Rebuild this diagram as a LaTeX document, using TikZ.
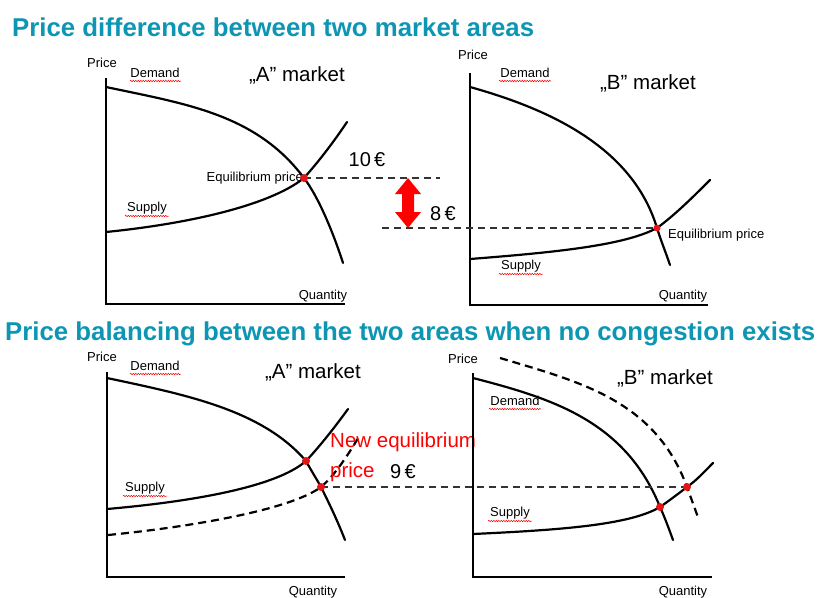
\documentclass[tikz,border=0pt]{standalone}
\usepackage{fontspec}
\setmainfont{Liberation Sans}
\usetikzlibrary{decorations.pathmorphing}
\definecolor{titlecol}{RGB}{12,150,180}
\definecolor{dotred}{RGB}{230,20,20}
\begin{document}
\begin{tikzpicture}[x=1pt,y=-1pt,
  axis/.style={line width=1.4pt,black},
  curve/.style={line width=2.2pt,black,line cap=round},
  dcurve/.style={line width=2.2pt,black,dash pattern=on 8pt off 5pt},
  guide/.style={line width=1.2pt,black!80,dash pattern=on 7pt off 5pt},
  eqdot/.style={circle,fill=dotred,inner sep=0pt,minimum size=8pt},
  title/.style={font=\bfseries\fontsize{25.8}{28}\selectfont,text=titlecol,inner sep=0pt},
  small/.style={font=\fontsize{13}{15}\selectfont,inner sep=1pt},
  mkt/.style={font=\fontsize{20.5}{24}\selectfont,inner sep=0pt},
  val/.style={font=\fontsize{20}{24}\selectfont,inner sep=0pt},
  squig/.style={red,line width=0.5pt,decorate,decoration={snake,amplitude=0.7pt,segment length=2.5pt}}
]
\useasboundingbox (0,0) rectangle (819,597);

% titles
\node[title,anchor=west] (t1) at (12,27) {Price difference between two market areas};
\node[title,anchor=west] (t2) at (5,334) {Price balancing between the two areas when no congestion exists};

% ---------- Panel 1 : A market (top-left)
\draw[axis] (106,78) -- (106,304) -- (345,304);
\node[small] (p1price) at (102,63) {Price};
\node[small] (p1dem) at (155,73) {Demand};
\draw[squig] (130,81) -- (181,81);
\node[mkt] (p1mkt) at (297,75) {„A” market};
\coordinate (eA) at (304,178);
\draw[curve] (106,87) .. controls (186,104) and (256,114) .. (eA)
   .. controls (320,199) and (335,238) .. (343,263);
\draw[curve] (106,232) .. controls (186,224) and (269,206) .. (eA)
   .. controls (320,160) and (335,140) .. (347,122);
\node[small] (p1sup) at (147,208) {Supply};
\draw[squig] (125,216) -- (169,216);
\node[small,anchor=east] (p1eq) at (304,178) {Equilibrium price};
\node[val] (ten) at (367,160) {10\,€};
\node[small] (p1q) at (323,296) {Quantity};

% ---------- Panel 2 : B market (top-right)
\draw[axis] (470,73) -- (470,305) -- (708,305);
\node[small] (p2price) at (473,55) {Price};
\node[small] (p2dem) at (525,73) {Demand};
\draw[squig] (499,81) -- (551,81);
\node[mkt] (p2mkt) at (648,83) {„B” market};
\coordinate (eB) at (657,228);
\draw[curve] (470,87) .. controls (545,108) and (632,145) .. (eB)
   .. controls (661,241) and (666,253) .. (670,265);
\draw[curve] (470,259) .. controls (560,252) and (625,245) .. (eB)
   .. controls (675,215) and (695,195) .. (710,180);
\node[small,anchor=west] (p2eq) at (667,235) {Equilibrium price};
\node[small] (p2sup) at (521,266) {Supply};
\draw[squig] (499,274) -- (543,274);
\node[small] (p2q) at (683,296) {Quantity};

% guides and price difference arrow
\coordinate (gA) at (440,178);
\coordinate (gB) at (382,228);
\draw[guide] (eA) -- (gA);
\draw[guide] (gB) -- (eB);
\fill[red] (408,178) -- (421,194) -- (414,194) -- (414,212) -- (421,212) -- (408,228)
   -- (395,212) -- (402,212) -- (402,194) -- (395,194) -- cycle;
\node[val] (eight) at (443,214) {8\,€};
\node[eqdot] at (eA) {};
\node[eqdot,minimum size=7pt] at (eB) {};

% ---------- Panel 3 : A market (bottom-left)
\draw[axis] (107,372) -- (107,577) -- (345,577);
\node[small] (p3price) at (102,357) {Price};
\node[small] (p3dem) at (155,366) {Demand};
\draw[squig] (130,374) -- (181,374);
\node[mkt] (p3mkt) at (313,372) {„A” market};
\coordinate (eA1) at (306,461);
\coordinate (eA2) at (321,487);
\draw[curve] (107,378) .. controls (187,395) and (262,410) .. (eA1)
   .. controls (312,472) and (316,478) .. (eA2)
   .. controls (330,505) and (338,522) .. (345,540);
\draw[curve] (107,509) .. controls (187,502) and (275,488) .. (eA1)
   .. controls (320,446) and (335,427) .. (348,409);
\draw[dcurve] (108,535) .. controls (190,527) and (290,510) .. (eA2)
   .. controls (335,475) and (348,455) .. (360,435);
\node[small] (p3sup) at (145,488) {Supply};
\draw[squig] (123,496) -- (167,496);
\node[small] (p3q) at (313,592) {Quantity};
\node[text=red,anchor=west,inner sep=0pt,font=\fontsize{20.5}{24}\selectfont] (neweq) at (330,442) {New equilibrium};
\node[text=red,anchor=west,inner sep=0pt,font=\fontsize{20.5}{24}\selectfont] (newpr) at (330,472) {price};
\node[val] (nine) at (403,472) {9\,€};

% ---------- Panel 4 : B market (bottom-right)
\draw[axis] (473,373) -- (473,577) -- (712,577);
\node[small] (p4price) at (463,359) {Price};
\node[mkt] (p4mkt) at (665,378) {„B” market};
\node[small] (p4dem) at (515,401) {Demand};
\draw[squig] (489,409) -- (541,409);
\coordinate (eB1) at (660,507);
\coordinate (eB2) at (687,487);
\draw[curve] (473,378) .. controls (550,398) and (625,420) .. (eB1)
   .. controls (665,518) and (669,529) .. (673,540);
\draw[curve] (473,534) .. controls (560,530) and (630,525) .. (eB1)
   .. controls (670,500) and (678,494) .. (eB2)
   .. controls (697,480) and (705,471) .. (713,463);
\draw[dcurve] (500,358) .. controls (580,382) and (655,400) .. (eB2)
   .. controls (691,498) and (695,509) .. (699,520);
\node[small] (p4sup) at (510,513) {Supply};
\draw[squig] (488,521) -- (532,521);
\node[small] (p4q) at (683,592) {Quantity};

% common price guide
\draw[guide] (eA2) -- (eB2);
\node[eqdot] at (eA1) {};
\node[eqdot] at (eA2) {};
\node[eqdot] at (eB1) {};
\node[eqdot] at (eB2) {};
\end{tikzpicture}
\end{document}
